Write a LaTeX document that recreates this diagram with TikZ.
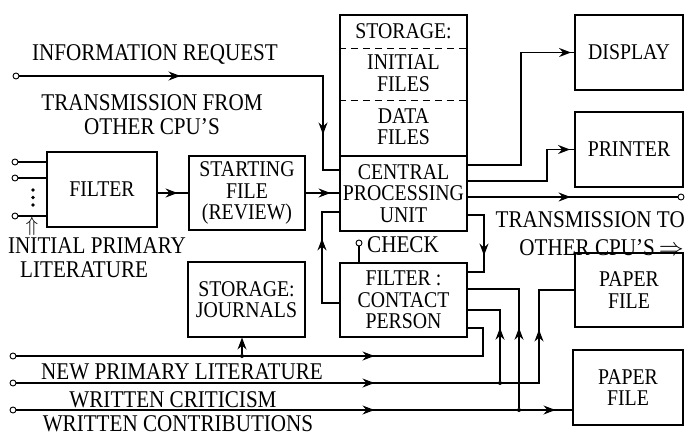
\documentclass[tikz,border=0pt]{standalone}
\usepackage{fontspec}
\setmainfont[FakeStretch=0.88]{Liberation Serif}
\usetikzlibrary{arrows.meta,decorations.markings,calc}
\newcommand\lblfont{\fontsize{24}{24}\selectfont}
\newcommand\boxfont{\fontsize{22.5}{21.5}\selectfont}
\tikzset{
  myarr/.tip={Stealth[length=12pt,width=9pt,inset=4pt]},
  arrat/.style={postaction={decorate,decoration={markings,mark=at position #1 with {\arrow{myarr}}}}},
  conn/.style={line width=1.1pt},
  box/.style={draw,line width=1.1pt,align=center,inner sep=0pt,font=\boxfont},
  lbl/.style={inner sep=0pt,font=\lblfont,align=center},
  term/.style={circle,draw,line width=0.9pt,fill=white,inner sep=0pt,minimum size=6pt},
  jdot/.style={circle,fill,inner sep=0pt,minimum size=4pt},
  sep/.style={line width=1pt,dash pattern=on 7pt off 5pt},
}
\begin{document}
\begin{tikzpicture}[x=1pt,y=-1pt]
\useasboundingbox (0,0) rectangle (685,439);
% boxes
\node[box,minimum width=127pt,minimum height=141pt] (stor) at (403.5,85.5) {};
\node[box,minimum width=127pt,minimum height=75pt] (cpu) at (403.5,193.5) {CENTRAL\\PROCESSING\\UNIT};
\node[inner sep=0pt,font=\boxfont] (st1) at (403.5,31.5) {STORAGE:};
\node[inner sep=0pt,font=\boxfont,align=center] (st2) at (403.5,73) {INITIAL\\FILES};
\node[inner sep=0pt,font=\boxfont,align=center] (st3) at (403.5,126.5) {DATA\\FILES};
\draw[sep] (stor.west |- 0,48) -- (stor.east |- 0,48);
\draw[sep] (stor.west |- 0,100) -- (stor.east |- 0,100);
\node[box,minimum width=110pt,minimum height=75pt] (filter) at (102,189.5) {FILTER};
\node[box,minimum width=116pt,minimum height=74pt] (start) at (247,193) {STARTING\\FILE\\(REVIEW)};
\node[box,minimum width=117pt,minimum height=75pt] (journals) at (246.5,299.5) {STORAGE:\\JOURNALS};
\node[box,minimum width=127pt,minimum height=74pt] (contact) at (403.5,300) {FILTER :\\CONTACT\\PERSON};
\node[box,minimum width=108pt,minimum height=75pt] (display) at (629,52.5) {DISPLAY};
\node[box,minimum width=108pt,minimum height=75pt] (printer) at (629,149.5) {PRINTER};
\node[box,minimum width=108pt,minimum height=74pt] (paper1) at (629,290) {PAPER\\FILE};
\node[box,minimum width=110pt,minimum height=75pt] (paper2) at (628,387.5) {PAPER\\FILE};
% labels
\node[lbl,anchor=base] (lir) at (155,60) {INFORMATION REQUEST};
\node[lbl] (ltf) at (152,114.5) {TRANSMISSION FROM\\OTHER CPU'S};
\node[lbl,align=left,anchor=west] (lip) at (8,257.5) {INITIAL PRIMARY\\\hspace*{12pt}LITERATURE};
\node[lbl,anchor=base east] (ltt1) at (685,227) {TRANSMISSION TO};
\node[lbl,anchor=base east] (ltt2) at (684,255) {OTHER CPU'S\,$\Rightarrow$};
\node[lbl,anchor=base] (lnp) at (182,379) {NEW PRIMARY LITERATURE};
\node[lbl,anchor=base] (lwc) at (173,407) {WRITTEN CRITICISM};
\node[lbl,anchor=base] (lwk) at (178,431) {WRITTEN CONTRIBUTIONS};
% information request
\node[term] (ir0) at (16,76) {};
\draw[conn,arrat=161pt,arrat=362pt] (ir0.east) -- (323,76) -- (323,170) -- (cpu.west |- 0,170);
% filter inputs
\node[term] (fi1) at (15,162) {};
\node[term] (fi2) at (15,178) {};
\node[term] (fi3) at (15,216) {};
\draw[conn] (fi1.east) -- (filter.west |- fi1);
\draw[conn] (fi2.east) -- (filter.west |- fi2);
\draw[conn] (fi3.east) -- (filter.west |- fi3);
\foreach \yy in {190,197.5,205} \fill (33,\yy) circle (1.8pt);
\node[inner sep=0pt,font=\fontsize{20}{20}\selectfont] (uparr) at (32,226) {$\Uparrow$};
% main flow
\draw[conn,arrat=20pt] (filter.east |- start.west) -- (start.west);
\draw[conn,arrat=25pt] (start.east) -- (cpu.west |- start.east);
\draw[conn,arrat=82pt] (contact.west |- 0,303) -- (322,303) -- (322,212) -- (cpu.west |- 0,212);
\draw[conn,arrat=57pt] (cpu.east |- 0,215) -- (484,215) -- (484,272) -- (contact.east |- 0,272);
\draw[conn,arrat=216pt] (cpu.east |- 0,165) -- (521,165) -- (521,52.5) -- (display.west);
\draw[conn,arrat=134pt] (cpu.east |- 0,181) -- (547,181) -- (547,149.5) -- (printer.west);
\node[term] (tx) at (681,197) {};
\draw[conn,arrat=103pt] (cpu.east |- tx) -- (tx.west);
% check
\node[term] (chk) at (359,243) {};
\draw[conn] (chk.south) -- (contact.north -| chk);
\node[lbl,anchor=base west] (chkl) at (367,252) {CHECK};
% bottom inputs
\node[term] (n1) at (13,356) {};
\node[term] (n2) at (13,383) {};
\node[term] (n3) at (13,410) {};
\draw[conn,arrat=358pt] (n1.east) -- (483,356) -- (483,328) -- (contact.east |- 0,328);
\node[jdot] (j0) at (242,356) {};
\draw[conn,-{myarr}] (j0) -- (j0 |- journals.south);
\draw[conn,arrat=358pt,arrat=576pt] (n2.east) -- (539,383) -- (539,290) -- (paper1.west);
\node[jdot] (j2) at (500,383) {};
\draw[conn,arrat=53pt] (j2) -- (500,310) -- (contact.east |- 0,310);
\draw[conn,arrat=358pt,arrat=539pt] (n3.east) -- (paper2.west |- n3);
\node[jdot] (j3) at (519,410) {};
\draw[conn,arrat=80pt] (j3) -- (519,289) -- (contact.east |- 0,289);
\end{tikzpicture}
\end{document}
